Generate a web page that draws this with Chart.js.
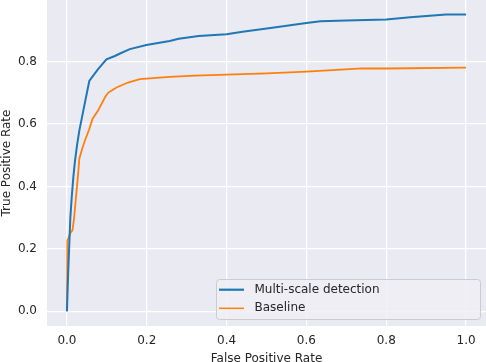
<!DOCTYPE html>
<html>
<head>
<meta charset="utf-8">
<script src="https://cdn.jsdelivr.net/npm/chart.js@4.4.0/dist/chart.umd.min.js"></script>
<style>
html,body{margin:0;padding:0;background:#fff;}
#wrap{width:486px;height:362px;}
</style>
</head>
<body>
<div id="wrap"><canvas id="c" width="486" height="362"></canvas></div>
<script>
const seriesLabels = ["Multi-scale detection", "Baseline"];
const fprMulti = [0, 0.003, 0.006, 0.0085, 0.012, 0.016, 0.02, 0.025, 0.031, 0.041, 0.05, 0.056, 0.078, 0.099, 0.12, 0.133, 0.1575, 0.199, 0.2575, 0.28, 0.33, 0.40, 0.44, 0.51, 0.60, 0.635, 0.70, 0.80, 0.86, 0.95, 1.0];
const tprMulti = [0, 0.12, 0.22, 0.30, 0.366, 0.43, 0.48, 0.53, 0.579, 0.643, 0.70, 0.738, 0.776, 0.807, 0.818, 0.826, 0.84, 0.853, 0.866, 0.873, 0.882, 0.888, 0.896, 0.908, 0.924, 0.929, 0.932, 0.935, 0.942, 0.951, 0.951];
const fprBase = [0, 0.001, 0.004, 0.008, 0.014, 0.018, 0.022, 0.028, 0.031, 0.038, 0.045, 0.055, 0.064, 0.078, 0.095, 0.103, 0.124, 0.153, 0.1825, 0.2575, 0.32, 0.40, 0.50, 0.60, 0.74, 0.80, 1.0];
const tprBase = [0, 0.226, 0.235, 0.25, 0.26, 0.30, 0.356, 0.44, 0.489, 0.52, 0.547, 0.58, 0.616, 0.643, 0.685, 0.70, 0.717, 0.733, 0.744, 0.751, 0.755, 0.758, 0.762, 0.768, 0.778, 0.778, 0.781];
const xTickValues = [0.0, 0.2, 0.4, 0.6, 0.8, 1.0];
const yTickValues = [0.0, 0.2, 0.4, 0.6, 0.8];
const xTitle = "False Positive Rate";
const yTitle = "True Positive Rate";

const colors = ["#1f77b4", "#ff7f0e"];
const FONT = "'DejaVu Sans', sans-serif";
const TXT = "#262626";

function pts(xs, ys){ return xs.map((x,i)=>({x:x, y:ys[i]})); }

const bgPlugin = {
  id: 'bg',
  beforeDraw(chart){
    const {ctx, chartArea:a} = chart;
    ctx.save();
    ctx.fillStyle = '#EAEAF2';
    ctx.fillRect(a.left, a.top, a.right-a.left, a.bottom-a.top);
    ctx.restore();
  }
};

const legendPlugin = {
  id: 'mplLegend',
  afterDraw(chart){
    const ctx = chart.ctx;
    const x0 = 216.5, y0 = 279.5, w = 264, h = 40, r = 3;
    ctx.save();
    ctx.beginPath();
    ctx.moveTo(x0+r, y0);
    ctx.lineTo(x0+w-r, y0); ctx.quadraticCurveTo(x0+w, y0, x0+w, y0+r);
    ctx.lineTo(x0+w, y0+h-r); ctx.quadraticCurveTo(x0+w, y0+h, x0+w-r, y0+h);
    ctx.lineTo(x0+r, y0+h); ctx.quadraticCurveTo(x0, y0+h, x0, y0+h-r);
    ctx.lineTo(x0, y0+r); ctx.quadraticCurveTo(x0, y0, x0+r, y0);
    ctx.closePath();
    ctx.fillStyle = 'rgba(238,238,244,0.85)';
    ctx.fill();
    ctx.strokeStyle = '#cccccc';
    ctx.lineWidth = 1;
    ctx.stroke();
    const rows = [289.7, 308.3];
    const widths = [2.2, 1.5];
    chart.data.datasets.forEach((ds, i) => {
      ctx.beginPath();
      ctx.moveTo(219, rows[i]);
      ctx.lineTo(244, rows[i]);
      ctx.strokeStyle = ds.borderColor;
      ctx.lineWidth = widths[i];
      ctx.stroke();
      ctx.fillStyle = TXT;
      ctx.font = "12px " + FONT;
      ctx.textBaseline = 'middle';
      ctx.textAlign = 'left';
      ctx.fillText(ds.label, 254.5, rows[i]);
    });
    ctx.restore();
  }
};

new Chart(document.getElementById('c'), {
  type: 'scatter',
  data: {
    datasets: [
      { label: seriesLabels[0], data: pts(fprMulti, tprMulti), showLine: true, borderColor: colors[0], backgroundColor: colors[0], borderWidth: 2, pointRadius: 0, tension: 0 },
      { label: seriesLabels[1], data: pts(fprBase, tprBase), showLine: true, borderColor: colors[1], backgroundColor: colors[1], borderWidth: 1.8, pointRadius: 0, tension: 0 }
    ]
  },
  options: {
    responsive: false,
    animation: false,
    devicePixelRatio: 1,
    layout: { padding: 0 },
    plugins: { legend: { display: false }, tooltip: { enabled: false } },
    scales: {
      x: {
        type: 'linear', min: -0.05, max: 1.05,
        afterFit(s){ s.height = 36; s.paddingLeft = 0; s.paddingRight = 0; },
        afterBuildTicks(s){ s.ticks = xTickValues.map(v=>({value:v})); },
        ticks: { includeBounds: false, padding: 8, color: TXT, font: { family: FONT, size: 12 }, callback: v => v.toFixed(1) , maxRotation: 0},
        grid: { color: '#ffffff', lineWidth: 1.2, drawTicks: false },
        border: { display: false },
        title: { display: true, text: xTitle, color: TXT, font: { family: FONT, size: 12 }, padding: { top: 0, bottom: -4 } }
      },
      y: {
        type: 'linear', min: -0.0475, max: 0.9975,
        afterFit(s){ s.width = 47; s.paddingTop = 0; s.paddingBottom = 0; },
        afterBuildTicks(s){ s.ticks = yTickValues.map(v=>({value:v})); },
        ticks: { includeBounds: false, padding: 10, color: TXT, font: { family: FONT, size: 12 }, callback: v => v.toFixed(1) },
        grid: { color: '#ffffff', lineWidth: 1.2, drawTicks: false },
        border: { display: false },
        title: { display: true, text: yTitle, color: TXT, font: { family: FONT, size: 12 }, padding: { top: 0, bottom: 0 } }
      }
    }
  },
  plugins: [bgPlugin, legendPlugin]
});
</script>
</body>
</html>
